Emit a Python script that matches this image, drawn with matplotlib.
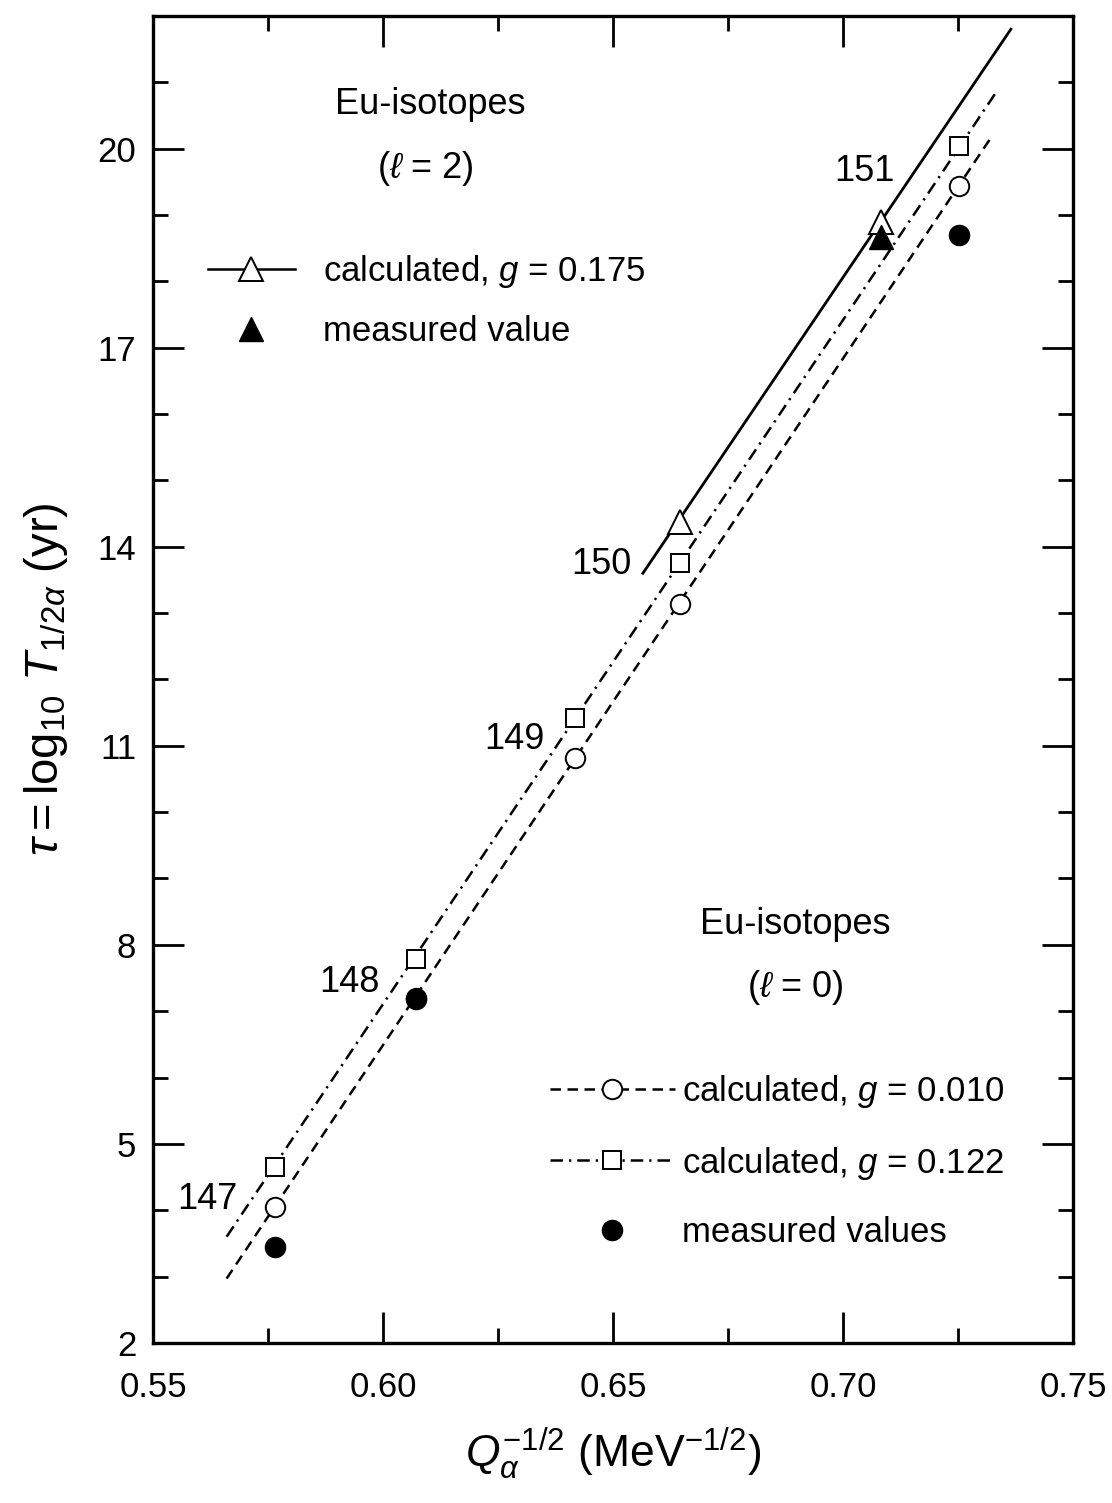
import matplotlib
matplotlib.use("Agg")
import matplotlib.pyplot as plt
from matplotlib.lines import Line2D
from matplotlib.ticker import MultipleLocator, FixedLocator

plt.rcParams['font.family'] = ['Liberation Sans', 'DejaVu Sans']
plt.rcParams['mathtext.fontset'] = 'custom'
plt.rcParams['mathtext.rm'] = 'Liberation Sans'
plt.rcParams['mathtext.it'] = 'Liberation Sans:italic'
plt.rcParams['mathtext.bf'] = 'Liberation Sans:bold'

# --- data -----------------------------------------------------------------
# calculated, l = 0 (isotopes 147..151)
x_calc0 = [0.5765, 0.6072, 0.6417, 0.6646, 0.7252]
y_g010 = [4.05, 7.20, 10.82, 13.14, 19.44]     # g = 0.010 (circles)
y_g122 = [4.65, 7.79, 11.42, 13.76, 20.04]     # g = 0.122 (squares)
# measured, l = 0
x_meas0 = [0.5765, 0.6072, 0.7252]
y_meas0 = [3.45, 7.18, 18.70]
# calculated, l = 2, g = 0.175 (triangles)
x_calc2 = [0.6646, 0.7083]
y_g175 = [14.37, 18.90]
# measured, l = 2
x_meas2 = [0.7083]
y_meas2 = [18.67]

# straight-line systematics drawn through the calculated points
fit_g010_x = [0.566, 0.7325]
fit_g010_y = [2.97, 20.20]
fit_g122_x = [0.566, 0.7333]
fit_g122_y = [3.60, 20.85]
fit_g175_x = [0.6565, 0.7365]
fit_g175_y = [13.60, 21.80]

# isotope mass-number labels (right edge of text, data coords)
iso_labels = ['147', '148', '149', '150', '151']
iso_x = [0.5685, 0.5993, 0.6352, 0.6541, 0.7113]
iso_y = [4.16, 7.43, 11.09, 13.73, 19.65]

# --- figure -----------------------------------------------------------------
fig = plt.figure(figsize=(11.12, 15.03), dpi=100)
ax = fig.add_axes([0.1376, 0.1065, 0.8273, 0.8829])

FS = 25
lw = 1.8
dash = (0, (4.2, 2.6))
dashdot = (0, (5.0, 2.4, 0.9, 2.4))

ax.plot(fit_g010_x, fit_g010_y, color='black', lw=lw, linestyle=dash)
ax.plot(fit_g122_x, fit_g122_y, color='black', lw=lw, linestyle=dashdot)
ax.plot(fit_g175_x, fit_g175_y, color='black', lw=lw + 0.2, linestyle='-')

mk = dict(linestyle='none', markerfacecolor='white', markeredgecolor='black',
          markeredgewidth=1.4, zorder=4)
ax.plot(x_calc0, y_g010, marker='o', markersize=14, **mk)
ax.plot(x_calc0, y_g122, marker='s', markersize=13, **mk)
ax.plot(x_calc2, y_g175, marker='^', markersize=17, **mk)
ax.plot(x_meas0, y_meas0, marker='o', markersize=14.5, linestyle='none',
        color='black', zorder=5)
ax.plot(x_meas2, y_meas2, marker='^', markersize=17, linestyle='none',
        color='black', zorder=5)

for lab, tx, ty in zip(iso_labels, iso_x, iso_y):
    ax.text(tx, ty, lab, fontsize=26, ha='right', va='center')

ax.set_xlim(0.55, 0.75)
ax.set_ylim(2, 22)
ax.xaxis.set_major_locator(MultipleLocator(0.05))
ax.xaxis.set_minor_locator(MultipleLocator(0.025))
ax.yaxis.set_major_locator(FixedLocator([2, 5, 8, 11, 14, 17, 20]))
ax.yaxis.set_minor_locator(MultipleLocator(1))
ax.xaxis.set_major_formatter(matplotlib.ticker.FormatStrFormatter('%.2f'))
ax.tick_params(which='both', direction='in', top=True, right=True,
               labelsize=FS, width=2.0)
ax.tick_params(which='major', length=22, pad=20)
ax.tick_params(axis='y', which='major', pad=12)
ax.tick_params(which='minor', length=11)
for sp in ax.spines.values():
    sp.set_linewidth(2.4)

ax.set_xlabel(r'$Q_{\alpha}^{-1/2}$ (MeV$^{-1/2}$)', fontsize=32, labelpad=16)
ax.set_ylabel(r'$\tau = \mathrm{log}_{10}\ T_{1/2\alpha}$ (yr)', fontsize=34,
              labelpad=20)

# annotations
ax.text(0.301, 0.933, 'Eu-isotopes', transform=ax.transAxes, fontsize=26,
        ha='center', va='center')
ax.text(0.296, 0.885, r'($\ell$ = 2)', transform=ax.transAxes, fontsize=26,
        ha='center', va='center')
ax.text(0.698, 0.315, 'Eu-isotopes', transform=ax.transAxes, fontsize=26,
        ha='center', va='center')
ax.text(0.698, 0.2675, r'($\ell$ = 0)', transform=ax.transAxes, fontsize=26,
        ha='center', va='center')

# legend, l = 2
h1 = [Line2D([], [], color='black', lw=lw, marker='^', markersize=17,
             markerfacecolor='white', markeredgecolor='black', markeredgewidth=1.4),
      Line2D([], [], linestyle='none', marker='^', markersize=17, color='black')]
leg1 = ax.legend(h1, [r'calculated, $g$ = 0.175', 'measured value'],
                 loc='upper left', bbox_to_anchor=(0.0598, 0.821),
                 frameon=False, fontsize=FS, handlelength=2.5,
                 handletextpad=0.8, labelspacing=0.7, borderpad=0,
                 borderaxespad=0, numpoints=1)
ax.add_artist(leg1)

# legend, l = 0
h2 = [Line2D([], [], color='black', lw=lw, linestyle=dash, marker='o',
             markersize=14, markerfacecolor='white', markeredgecolor='black',
             markeredgewidth=1.4),
      Line2D([], [], color='black', lw=lw, linestyle=dashdot, marker='s',
             markersize=13, markerfacecolor='white', markeredgecolor='black',
             markeredgewidth=1.4),
      Line2D([], [], linestyle='none', marker='o', markersize=14.5, color='black')]
ax.legend(h2, [r'calculated, $g$ = 0.010', r'calculated, $g$ = 0.122',
               'measured values'],
          loc='upper left', bbox_to_anchor=(0.4315, 0.2035),
          frameon=False, fontsize=FS, handlelength=3.6,
          handletextpad=0.2, labelspacing=1.0, borderpad=0,
          borderaxespad=0, numpoints=1)

fig.savefig('out.png', dpi=100)
